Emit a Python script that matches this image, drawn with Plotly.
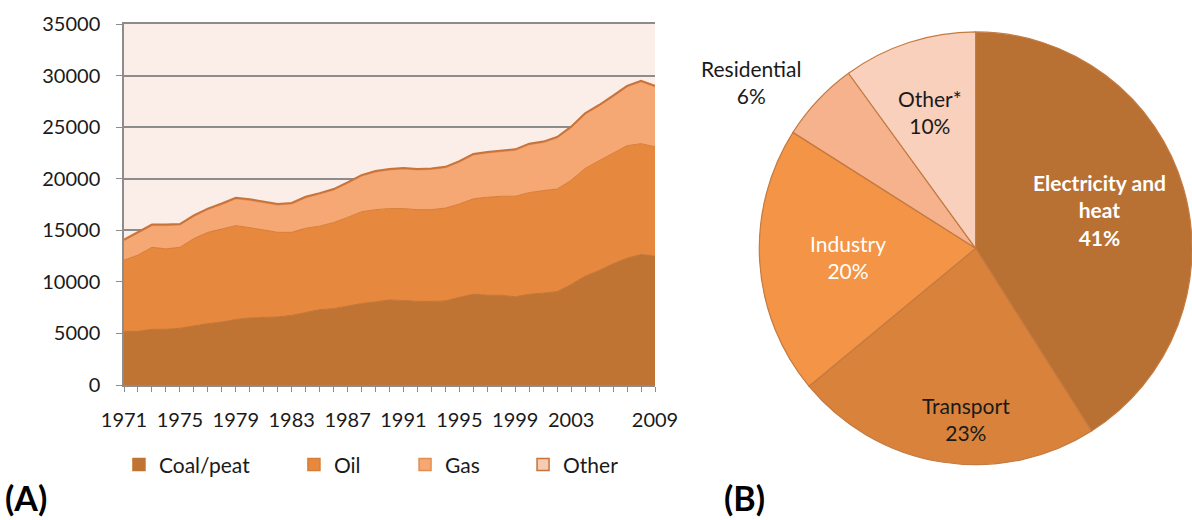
import plotly.graph_objects as go

years = list(range(1971, 2010))

coal = [5200, 5200, 5400, 5400, 5500, 5750, 5950, 6100, 6350, 6500,
        6550, 6600, 6750, 7050, 7300, 7400, 7650, 7900, 8050, 8250,
        8200, 8100, 8100, 8150, 8500, 8800, 8700, 8700, 8550, 8800,
        8900, 9050, 9750, 10550, 11100, 11750, 12300, 12650, 12500]
oil = [6900, 7400, 7950, 7800, 7850, 8450, 8850, 9050, 9100, 8750,
       8450, 8200, 8050, 8150, 8100, 8350, 8600, 8900, 8950, 8850,
       8900, 8900, 8900, 9000, 9050, 9250, 9500, 9600, 9750, 9850,
       9950, 9950, 10100, 10450, 10650, 10750, 10900, 10750, 10600]
gas = [1900, 2100, 2100, 2250, 2150, 2150, 2200, 2350, 2600, 2650,
       2650, 2650, 2750, 2950, 3100, 3150, 3300, 3450, 3650, 3750,
       3850, 3850, 3900, 3900, 4050, 4250, 4300, 4300, 4450, 4650,
       4650, 4950, 5100, 5250, 5300, 5450, 5700, 6000, 5800]
other = [100] * 39

x_ticks = [1971, 1975, 1979, 1983, 1987, 1991, 1995, 1999, 2003, 2009]

sectors = ["Electricity and<br>heat", "Transport", "Industry", "Residential", "Other*"]
shares = [41, 23, 20, 6, 10]

FONT = "Lato"
series = [
    ("Coal/peat", coal, "#c07434", "#c07434"),
    ("Oil", oil, "#e6893e", "#d97c35"),
    ("Gas", gas, "#f5a873", "#e48d4f"),
    ("Other", other, "#f8ccb2", "#c8733a"),
]

fig = go.Figure()

for name, vals, fill, edge in series:
    fig.add_trace(go.Scatter(
        x=years, y=vals, name=name, stackgroup="one", mode="lines",
        fillcolor=fill, line=dict(color=edge, width=2 if name == "Other" else 1),
        showlegend=False,
    ))

# legend swatches, one legend per item so spacing matches
legend_x = [0.0998, 0.2466, 0.3398, 0.4388]
for i, (name, vals, fill, edge) in enumerate(series):
    lg = "legend" if i == 0 else f"legend{i + 1}"
    fig.add_trace(go.Scatter(
        x=[None], y=[None], name=name, mode="markers",
        marker=dict(symbol="square", size=12, color=fill,
                    line=dict(color=edge, width=1.5)),
        legend=lg,
    ))

fig.add_trace(go.Pie(
    labels=sectors, values=shares, sort=False, direction="clockwise",
    rotation=0, textinfo="none",
    marker=dict(colors=["#b87033", "#d9823b", "#f39446", "#f5b28c", "#f8d0bb"],
                line=dict(color="#c47a40", width=1.2)),
    domain=dict(x=[0.637, 1.0], y=[0.105, 0.94]),
    showlegend=False,
    hoverinfo="label+percent",
))

# slice labels placed like the original figure
label_pos = [(0.9228, 0.596), (0.8104, 0.194), (0.7114, 0.506), (0.630, 0.842), (0.780, 0.785)]
label_col = ["white", "#1a1a1a", "white", "#1a1a1a", "#1a1a1a"]
annotations = []
for i, (name, val) in enumerate(zip(sectors, shares)):
    txt = f"{name}<br>{val}%"
    if i == 0:
        txt = f"<b>{txt}</b>"
    annotations.append(dict(
        text=txt, x=label_pos[i][0], y=label_pos[i][1], xref="paper", yref="paper",
        xanchor="center", yanchor="middle", showarrow=False, align="center",
        font=dict(family=FONT, size=21, color=label_col[i]),
    ))

for txt, x in [("(A)", 0.0025), ("(B)", 0.606)]:
    annotations.append(dict(
        text=f"<b>{txt}</b>", x=x, y=0.044, xref="paper", yref="paper",
        xanchor="left", yanchor="middle", showarrow=False,
        font=dict(family=FONT, size=34, color="black"),
    ))

legend_style = dict(orientation="h", y=0.106, yanchor="middle", xanchor="left",
                    font=dict(family=FONT, size=21, color="#1a1a1a"),
                    bgcolor="rgba(0,0,0,0)", itemwidth=30)

fig.update_layout(
    width=1192, height=520,
    margin=dict(l=0, r=0, t=0, b=0, autoexpand=False),
    paper_bgcolor="white",
    plot_bgcolor="#fbede8",
    font=dict(family=FONT, size=18, color="#1a1a1a"),
    xaxis=dict(
        domain=[124 / 1192, 655 / 1192], range=[1971, 2009],
        tickvals=x_ticks, ticks="outside", ticklen=5, tickcolor="#8c8c8c",
        minor=dict(dtick=1, tick0=1971, ticks="outside", ticklen=5, tickcolor="#8c8c8c"),
        showline=True, linecolor="#8c8c8c", linewidth=1.5, mirror=True,
        showgrid=False, zeroline=False, ticklabelstandoff=11, automargin=False,
        tickfont=dict(family=FONT, size=20, color="#1a1a1a"),
    ),
    yaxis=dict(
        domain=[1 - 385 / 520, 1 - 24 / 520], range=[0, 35000],
        dtick=5000, ticks="outside", ticklen=6, tickcolor="#8c8c8c",
        showline=True, linecolor="#8c8c8c", linewidth=1.5,
        gridcolor="#8c8c8c", gridwidth=1.5, zeroline=False,
        ticklabelstandoff=12, tickformat="d", automargin=False,
        tickfont=dict(family=FONT, size=20, color="#1a1a1a"),
    ),
    legend=dict(legend_style, x=legend_x[0]),
    legend2=dict(legend_style, x=legend_x[1]),
    legend3=dict(legend_style, x=legend_x[2]),
    legend4=dict(legend_style, x=legend_x[3]),
    annotations=annotations,
)

fig.write_html("out.html", config={"displayModeBar": False},
               post_script="document.body.style.margin = '0';")
